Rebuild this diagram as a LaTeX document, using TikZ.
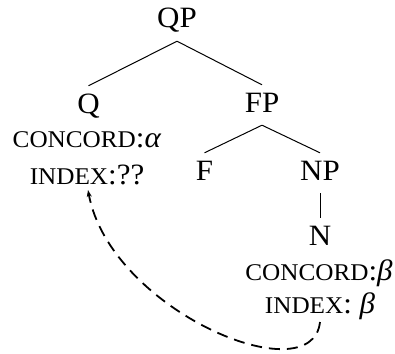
\documentclass[tikz,border=0pt]{standalone}
\usepackage{fontspec}
\setmainfont{Liberation Serif}[FakeStretch=1.05]
\usetikzlibrary{arrows.meta}
\newcommand\fsc[1]{{\fontsize{24pt}{26pt}\selectfont #1}}
\tikzset{
  cat/.style={font=\fontsize{29.5pt}{32pt}\selectfont, text height=19pt, text depth=5pt, inner xsep=2pt, inner ysep=8pt, anchor=base},
  feat/.style={font=\fontsize{29.5pt}{32pt}\selectfont, inner sep=0pt, anchor=base},
  branch/.style={line width=1pt},
  dep/.style={line width=1.8pt, dash pattern=on 11pt off 7pt, -{Stealth[length=7pt,width=5pt]}}
}
\begin{document}
\begin{tikzpicture}[x=1pt,y=-1pt]
\useasboundingbox (0,0) rectangle (395,353);
\node[cat] (qp) at (177,28) {QP};
\node[cat] (q) at (88.5,113) {Q};
\node[cat] (fp) at (262,112) {FP};
\node[cat] (f) at (204.5,180) {F};
\node[cat] (np) at (320,180) {NP};
\node[cat] (n) at (320,245) {N};
\node[feat] (ca) at (87,147) {\fsc{CONCORD}:\textit{α}};
\node[feat] (ia) at (87,184) {\fsc{INDEX}:??};
\node[feat] (cb) at (319,280) {\fsc{CONCORD}:\textit{β}};
\node[feat] (ib) at (320,313) {\fsc{INDEX}: \textit{β}};
\draw[branch] (qp.south) -- (q.north);
\draw[branch] (qp.south) -- (fp.north);
\draw[branch] (fp.south) -- (f.north);
\draw[branch] (fp.south) -- (np.north);
\draw[branch] (np.south) -- (n.north);
\coordinate (src) at (320,322);
\coordinate (dst) at (88,190);
\draw[dep] (src) .. controls (312,395) and (110,310) .. (dst);
\end{tikzpicture}
\end{document}
